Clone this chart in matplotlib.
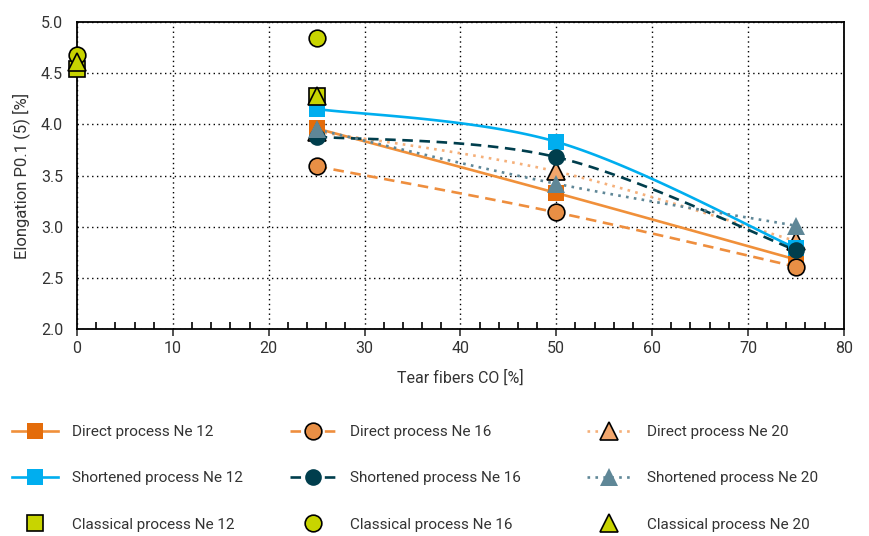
import numpy as np
import matplotlib
matplotlib.use("Agg")
from matplotlib import pyplot as plt
from matplotlib.ticker import MultipleLocator, FormatStrFormatter

plt.rcParams['font.family'] = ['Roboto', 'DejaVu Sans']

# tear fiber content [%] for the direct / shortened runs
x_runs = [25, 50, 75]
direct_12 = [3.96, 3.33, 2.68]
direct_16 = [3.59, 3.14, 2.61]
direct_20 = [3.93, 3.54, 2.86]
short_12 = [4.15, 3.83, 2.79]
short_16 = [3.88, 3.68, 2.77]
short_20 = [3.95, 3.42, 3.01]

# classical process only at 0 and 25 %
x_classic = [0, 25]
classic_12 = [4.54, 4.28]
classic_16 = [4.68, 4.84]
classic_20 = [4.61, 4.28]


def smooth(xs, ys, n=60):
    # spreadsheet-style smoothed line: cubic bezier through the points
    p = np.column_stack([xs, ys]).astype(float)
    pts = []
    for i in range(len(p) - 1):
        p0 = p[i - 1] if i > 0 else p[i]
        p1, p2 = p[i], p[i + 1]
        p3 = p[i + 2] if i + 2 < len(p) else p[i + 1]
        c1 = p1 + (p2 - p0) / 6
        c2 = p2 - (p3 - p1) / 6
        t = np.linspace(0, 1, n)[:, None]
        seg = ((1 - t) ** 3) * p1 + 3 * ((1 - t) ** 2) * t * c1 + 3 * (1 - t) * t ** 2 * c2 + t ** 3 * p2
        pts.append(seg if i == 0 else seg[1:])
    pts = np.vstack(pts)
    return pts[:, 0], pts[:, 1]


fig = plt.figure(figsize=(8.69, 5.36), dpi=100)
ax = fig.add_axes([0.0886, 0.386, 0.8824, 0.573])

runs = [
    ("Direct process Ne 12", direct_12, "#F0903A", "-", "s", "#E46C0A", "none", 12),
    ("Direct process Ne 16", direct_16, "#EE8E3E", (0, (4, 2.5)), "o", "#E88F45", "black", 12),
    ("Direct process Ne 20", direct_20, "#F5B07A", (0, (1, 2)), "^", "#F2A66C", "black", 13),
    ("Shortened process Ne 12", short_12, "#00AEEF", "-", "s", "#00AEEF", "none", 12),
    ("Shortened process Ne 16", short_16, "#003E4D", (0, (4, 2.5)), "o", "#003E4D", "none", 12),
    ("Shortened process Ne 20", short_20, "#5F8797", (0, (1, 2)), "^", "#5F8797", "none", 13),
]

handles = {}
z = 3
for label, ys, lc, ls, mk, mc, ec, ms in runs:
    sx, sy = smooth(x_runs, ys)
    ax.plot(sx, sy, color=lc, ls=ls, lw=1.9, zorder=z)
    ax.plot(x_runs, ys, ls="none", marker=mk, ms=ms, mfc=mc,
            mec=ec if ec != "none" else mc, mew=1.2 if ec != "none" else 0, zorder=z + 10)
    handles[label] = ax.plot([], [], color=lc, ls=ls, lw=1.9, marker=mk, ms=ms, mfc=mc,
                             mec=ec if ec != "none" else mc, mew=1.2 if ec != "none" else 0)[0]
    z += 1

classic = [
    ("Classical process Ne 12", classic_12, "s", 12),
    ("Classical process Ne 16", classic_16, "o", 12),
    ("Classical process Ne 20", classic_20, "^", 13),
]
for label, ys, mk, ms in classic:
    handles[label] = ax.plot(x_classic, ys, ls="none", marker=mk, ms=ms, mfc="#C8D400",
                             mec="black", mew=1.2, zorder=30, clip_on=False)[0]

ax.set_xlim(0, 80)
ax.set_ylim(2.0, 5.0)
ax.xaxis.set_major_locator(MultipleLocator(10))
ax.xaxis.set_minor_locator(MultipleLocator(2))
ax.yaxis.set_major_locator(MultipleLocator(0.5))
ax.yaxis.set_major_formatter(FormatStrFormatter("%.1f"))
ax.tick_params(axis="x", which="major", direction="out", length=5, width=1.2, labelsize=11.5, colors="#333333")
ax.tick_params(axis="x", which="minor", direction="in", length=5, width=1.2)
ax.tick_params(axis="y", length=0, labelsize=11.5, colors="#333333", pad=10)
ax.grid(True, which="major", color="black", ls=(0, (1, 2.5)), lw=1)
for s in ax.spines.values():
    s.set_linewidth(1.3)

ax.set_xlabel("Tear fibers CO [%]", fontsize=11.5, color="#333333", labelpad=10)
ax.set_ylabel("Elongation P0.1 (5) [%]", fontsize=12, color="#333333", labelpad=8)

# one legend column per yarn count
columns = [
    ["Direct process Ne 12", "Shortened process Ne 12", "Classical process Ne 12"],
    ["Direct process Ne 16", "Shortened process Ne 16", "Classical process Ne 16"],
    ["Direct process Ne 20", "Shortened process Ne 20", "Classical process Ne 20"],
]
col_x = [0.0138, 0.3337, 0.675]
for cx, labels in zip(col_x, columns):
    leg = fig.legend([handles[k] for k in labels], labels, loc="upper left",
                     bbox_to_anchor=(cx, 0.207), frameon=False, fontsize=11,
                     borderpad=0, borderaxespad=0,
                     handlelength=3.0, handletextpad=0.95, labelspacing=2.12)
    for t in leg.get_texts():
        t.set_color("#333333")

fig.savefig("out.png", dpi=100)
